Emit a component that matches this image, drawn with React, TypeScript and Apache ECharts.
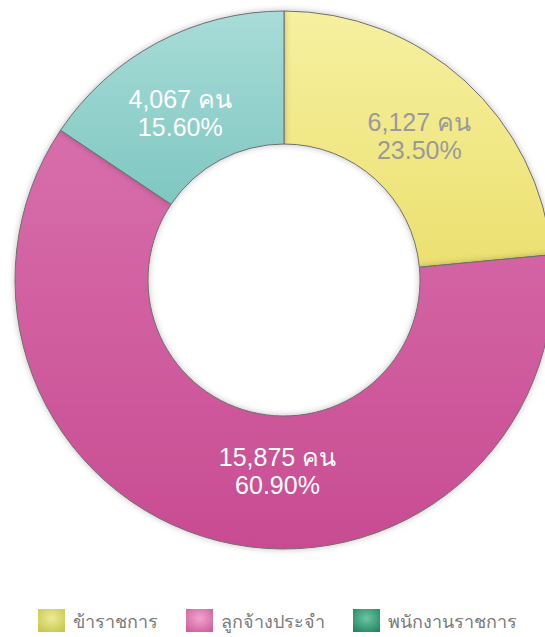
import React, { useEffect, useRef } from "react";
import * as echarts from "echarts";

const categories = ["ข้าราชการ", "ลูกจ้างประจำ", "พนักงานราชการ"];
const values = [6127, 15875, 4067];
const percents = ["23.50%", "60.90%", "15.60%"];
const sliceTop = ["#F6F0A0", "#D86EAB", "#A8DCD8"];
const sliceBottom = ["#ECE070", "#C84C92", "#7FC7C1"];
const legendLight = ["#ECEB9A", "#EFA6CC", "#6FC4A4"];
const legendDark = ["#C9C64A", "#D05E9E", "#1F8761"];
const labelColors = ["#9A9A9A", "#FFFFFF", "#FFFFFF"];
const labelShift = [[-3, 8], [44, -8], [-7, 14]];

export default function App() {
  const ref = useRef<HTMLDivElement>(null);
  useEffect(() => {
    document.body.style.margin = "0";
    const chart = echarts.init(ref.current!, null, { renderer: "svg" });
    chart.setOption({
      animation: false,
      backgroundColor: "#FFFFFF",
      legend: {
        top: 609,
        left: 38,
        padding: 0,
        itemWidth: 27,
        itemHeight: 23,
        itemGap: 28,
        icon: "rect",
        itemStyle: { borderWidth: 0, shadowBlur: 0 },
        textStyle: {
          color: "#7A7A7A",
          fontSize: 18,
          padding: [0, 0, 0, 3],
          fontFamily: "Noto Sans, Liberation Sans, sans-serif",
        },
        data: categories.map((c, i) => ({
          name: c,
          itemStyle: {
            color: new echarts.graphic.RadialGradient(0.5, 0.4, 0.7, [
              { offset: 0, color: legendLight[i] },
              { offset: 1, color: legendDark[i] },
            ]),
            borderWidth: 0,
          },
        })),
      },
      series: [
        {
          type: "pie",
          center: [284, 280],
          radius: [136, 269],
          startAngle: 90,
          clockwise: true,
          label: {
            show: true,
            position: "inside",
            fontSize: 25,
            lineHeight: 28,
            fontFamily: "Liberation Sans, Arial, sans-serif",
          },
          labelLine: { show: false },
          data: categories.map((c, i) => ({
            name: c,
            value: values[i],
            label: {
              color: labelColors[i],
              formatter: () => values[i].toLocaleString("en-US") + " คน\n" + percents[i],
            },
            itemStyle: {
              color: new echarts.graphic.LinearGradient(0, 0, 0, 1, [
                { offset: 0, color: sliceTop[i] },
                { offset: 1, color: sliceBottom[i] },
              ]),
              borderColor: "#6E6E6E",
              borderWidth: 1,
              shadowBlur: 6,
              shadowColor: "rgba(0,0,0,0.25)",
            },
          })),
          labelLayout: (params: any) => {
            const i = params.dataIndex;
            return { dx: labelShift[i][0], dy: labelShift[i][1] };
          },
        },
      ],
    });
    return () => chart.dispose();
  }, []);
  return <div ref={ref} style={{ width: 545, height: 637 }} />;
}
